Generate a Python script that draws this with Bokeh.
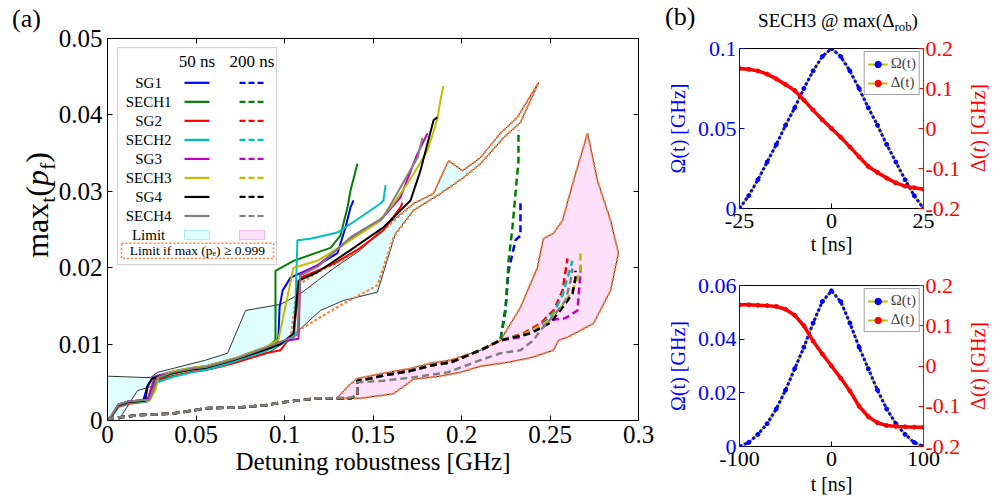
from bokeh.plotting import figure
from bokeh.models import (Range1d, LinearAxis, FixedTicker, NumeralTickFormatter,
                          CustomJSTickFormatter, Legend, LegendItem, BoxAnnotation, Div)
from bokeh.layouts import row, column
from bokeh.embed import file_html
from bokeh.resources import INLINE
from bokeh.core.properties import value

FONT = "Liberation Serif"
CSS_FONT = "'Liberation Serif', 'Times New Roman', serif"

# ======================= DATA : panel (a) =======================
x_ticks_a = [0, 0.05, 0.1, 0.15, 0.2, 0.25, 0.3]
y_ticks_a = [0, 0.01, 0.02, 0.03, 0.04, 0.05]
pulse_names = ["SG1", "SECH1", "SG2", "SECH2", "SG3", "SECH3", "SG4", "SECH4"]
pulse_colors = ["#0000ff", "#008000", "#ff0000", "#00bfbf", "#bf00bf", "#bfbf00", "#000000", "#808080"]

# ---- 50 ns pulses (solid) ----
sg1_50_x = [0, .0017, .0062, .0119, .0203, .0226, .0254, .0367, .048, .0554, .065, .074, .0893, .0955, .0966, .0972, .0989, .1034, .1186, .1299, .1345, .1373, .139]
sg1_50_y = [0, .0004, .0021, .0025, .0027, .0045, .0056, .0063, .0068, .0070, .0076, .0082, .0095, .0102, .0110, .0148, .0170, .0187, .0203, .0219, .0253, .0279, .0288]
sech1_50_x = [0, .0017, .0062, .0119, .0226, .0254, .0271, .0367, .048, .0554, .065, .074, .0893, .0949, .0949, .1051, .1186, .126, .1316, .1356, .1373, .1412]
sech1_50_y = [0, .0003, .0019, .0023, .0026, .0044, .0054, .0061, .0067, .0069, .0075, .0081, .0094, .0105, .0196, .0209, .0220, .0226, .0242, .0279, .0301, .0336]
sg2_50_x = [0, .0017, .0062, .0119, .0226, .0254, .0282, .0367, .048, .0554, .065, .074, .0893, .0977, .1051, .109, .1277, .1429, .1559, .1655, .1667]
sg2_50_y = [0, .0003, .0018, .0022, .0025, .0040, .0052, .0058, .0064, .0066, .0071, .0077, .0088, .0092, .0114, .0187, .0205, .0226, .0249, .0279, .0285]
sech2_50_x = [0, .0017, .0062, .0119, .0226, .0254, .0282, .0367, .048, .0554, .065, .074, .0893, .0989, .1056, .1073, .1147, .1299, .1429, .1542, .1559, .1571]
sech2_50_y = [0, .0004, .0019, .0023, .0025, .0038, .0050, .0057, .0063, .0066, .0072, .0079, .0091, .0101, .0109, .0236, .0238, .0246, .0266, .0284, .0288, .0308]
sg3_50_x = [0, .0017, .0062, .0119, .0226, .0254, .0271, .0367, .048, .0554, .065, .074, .0893, .0977, .1079, .109, .1186, .1373, .1542, .1655, .1751, .1808]
sg3_50_y = [0, .0004, .0021, .0025, .0027, .0048, .0058, .0064, .0069, .0071, .0077, .0083, .0096, .0103, .0107, .0192, .0203, .0238, .0262, .0292, .0349, .0376]
sech3_50_x = [0, .0017, .0062, .0119, .0237, .0271, .0288, .0367, .048, .0554, .065, .074, .0893, .0966, .1051, .1186, .1373, .1525, .1616, .1695, .1808, .1864, .1881, .1898]
sech3_50_y = [0, .0004, .0020, .0024, .0026, .0040, .0057, .0064, .0069, .0071, .0077, .0083, .0096, .0106, .0200, .0209, .0236, .0259, .0284, .0310, .0353, .0395, .0419, .0438]
sg4_50_x = [0, .0017, .0062, .0119, .0214, .0226, .0254, .0367, .048, .0554, .065, .074, .0893, .0977, .1051, .1079, .1186, .1373, .1559, .1712, .1768, .1842, .1864]
sg4_50_y = [0, .0004, .0020, .0024, .0026, .0045, .0055, .0062, .0067, .0069, .0075, .0081, .0093, .0100, .0114, .0183, .0194, .0223, .0253, .0288, .0327, .0393, .0397]
sech4_50_x = [0, .0017, .0062, .0119, .0237, .0260, .0282, .0367, .048, .0554, .065, .074, .0893, .0977, .1073, .1090, .1186, .1373, .1559, .1751, .178]
sech4_50_y = [0, .0005, .0021, .0025, .0027, .0040, .0056, .0063, .0068, .0070, .0076, .0082, .0095, .0103, .0112, .0190, .0201, .0240, .0266, .0344, .0370]

# ---- 200 ns pulses (dashed) ----
low_200_x = [0, .0028, .0175, .0367, .048, .0554, .074, .0893, .0994, .1186, .1373, .1412, .1412, .1486, .1559, .1712, .1825, .1938, .2107, .222]
low_200_y = [0, .0003, .0007, .0009, .0013, .0016, .0017, .0020, .0024, .0029, .0029, .0033, .0052, .0055, .0059, .0065, .0072, .0076, .0092, .0105]
sg1_200_tail_x = [.2249, .2266, .2305, .2333, .2333]
sg1_200_tail_y = [.0148, .0196, .0236, .0242, .0288]
sech1_200_tail_x = [.2249, .2266, .2288, .2305, .2322, .2322]
sech1_200_tail_y = [.0144, .0209, .0253, .0297, .0340, .0380]
sg2_200_tail_x = [.2350, .2446, .2520, .2571, .2599]
sg2_200_tail_y = [.0114, .0127, .0144, .0170, .0212]
sech2_200_tail_x = [.2360, .2446, .2520, .2571, .2627]
sech2_200_tail_y = [.0112, .0125, .0141, .0164, .0209]
sg3_200_tail_x = [.2333, .2486, .2588, .2655, .2672, .2672]
sg3_200_tail_y = [.0109, .0131, .0134, .0144, .0192, .0203]
sech3_200_tail_x = [.2362, .2475, .2559, .2627, .2672, .2672]
sech3_200_tail_y = [.0114, .0128, .0147, .0170, .0196, .0220]
sg4_200_tail_x = [.2390, .2503, .2571, .2627, .2644, .2644]
sg4_200_tail_y = [.0114, .0128, .0148, .0166, .0187, .0196]
sech4_200_x = [0, .0028, .0175, .0367, .048, .0554, .074, .0893, .0994, .1186, .1373, .1412, .1412, .1559, .1712, .1921, .2107, .222, .2333, .2407, .2446, .252, .2588, .2616, .2627]
sech4_200_y = [0, .0003, .0007, .0009, .0013, .0016, .0017, .0020, .0024, .0029, .0030, .0033, .0050, .0052, .0056, .0063, .0079, .0088, .0092, .0105, .0118, .0137, .0157, .0183, .0199]

# ---- limit regions ----
limit50_x = [0, .0243, .0282, .0384, .0554, .0678, .078, .0977, .109, .1186, .1277, .1429, .1542, .1729, .1842, .1927, .2006, .2107, .222, .2316, .2435,
             .2333, .2237, .2107, .2011, .1881, .1729, .1627, .1525, .1333, .1203, .109, .0994, .0904, .0768, .0638, .0469, .0299, .0254, .0169, .0062, 0]
limit50_y = [.0058, .0056, .0063, .0069, .0079, .0088, .0144, .0152, .0166, .0183, .0199, .0223, .0249, .0284, .0297, .0340, .0327, .0344, .0376, .0397, .0442,
             .0390, .0370, .0336, .0318, .0297, .0275, .0245, .0168, .0157, .0144, .0120, .0101, .0088, .0079, .0071, .0063, .0055, .0045, .0039, 0, 0]
limit200_x = [.1299, .1373, .1412, .1559, .1712, .1825, .1938, .2107, .222, .2333, .2429, .2463, .252, .2571, .2633, .2712, .2768, .2842, .2887,
              .2842, .2746, .2599, .2548, .252, .239, .226, .2107, .1994, .1881, .1729, .1616, .1429, .1299]
limit200_y = [.0030, .0048, .0055, .0062, .0068, .0075, .0079, .0092, .0105, .0148, .0200, .0238, .0245, .0262, .0314, .0376, .0314, .0262, .0219,
              .0170, .0127, .0109, .0105, .0092, .0082, .0076, .0071, .0063, .0058, .0054, .0035, .0029, .0029]
pe_limit50_upper_x = [.1034, .1073, .1186, .1373, .1542, .1729, .1842, .1927, .2006, .2107, .222, .2316, .2435]
pe_limit50_upper_y = [.0107, .0177, .0194, .0216, .0246, .0284, .0297, .0340, .0327, .0344, .0376, .0397, .0442]
pe_limit50_lower_x = [.1034, .1107, .1333, .1525, .1616, .1729, .1881, .2011, .2107, .2237, .2333, .2435]
pe_limit50_lower_y = [.0107, .0122, .0153, .0177, .0240, .0275, .0297, .0318, .0336, .0370, .0390, .0442]

# ======================= DATA : panel (b) =======================
t_50 = [-25, -22.5, -20, -17.5, -15, -12.5, -10, -7.5, -5, -2.5, 0, 2.5, 5, 7.5, 10, 12.5, 15, 17.5, 20, 22.5, 25]
omega_50 = [0, .008, .018, .029, .040, .052, .063, .075, .086, .095, .1, .095, .086, .075, .063, .052, .040, .029, .018, .008, 0]
delta_50 = [.150, .148, .144, .136, .124, .110, .095, .071, .046, .022, 0, -.022, -.046, -.071, -.095, -.110, -.124, -.136, -.144, -.148, -.152]
t_200 = [-100, -90, -80, -70, -60, -50, -40, -30, -20, -10, 0, 10, 20, 30, 40, 50, 60, 70, 80, 90, 100]
omega_200 = [0, .0015, .0045, .0085, .014, .021, .029, .037, .046, .054, .058, .054, .046, .037, .029, .021, .014, .0085, .0045, .0015, 0]
delta_200 = [.152, .152, .151, .150, .148, .141, .126, .100, .062, .030, 0, -.030, -.062, -.100, -.126, -.141, -.148, -.150, -.151, -.152, -.152]
omega50_ticks = [0, 0.05, 0.1]
omega200_ticks = [0, 0.02, 0.04, 0.06]
delta_ticks = [-0.2, -0.1, 0, 0.1, 0.2]
t50_ticks = [-25, 0, 25]
t200_ticks = [-100, 0, 100]

# ======================= STYLE / LAYOUT =======================
CYAN_FILL = "#e0ffff"
PINK_FILL = "#ffe0fa"
ORANGE = "#ff7f40"
YELLOW = "#bfbf00"


def style_axis(ax, size, color="black"):
    ax.major_tick_in = 5
    ax.major_tick_out = 0
    ax.minor_tick_line_color = None
    ax.major_tick_line_color = color
    ax.axis_line_color = color
    ax.major_label_text_font = FONT
    ax.major_label_text_font_size = f"{size}px"
    ax.major_label_text_color = color
    ax.axis_label_text_font = FONT
    ax.axis_label_text_font_style = "normal"
    ax.axis_label_text_color = color


def text_box(w, h, inner):
    html = (f'<div style="position:relative;width:{w}px;height:{h}px;font-family:{CSS_FONT};'
            f'color:#000;overflow:visible;">{inner}</div>')
    return Div(text=html, width=w, height=h, margin=(0, 0, 0, 0), styles={"overflow": "visible"})


def abs_text(x, y, size, content, rotate=False, color="#000", center_x=False):
    tr = "transform:translate(-50%,-50%) rotate(-90deg);" if rotate else (
        "transform:translateX(-50%);" if center_x else "")
    return (f'<div style="position:absolute;left:{x}px;top:{y}px;font-size:{size}px;line-height:1;'
            f'white-space:nowrap;color:{color};{tr}">{content}</div>')


def sub(s):
    return f'<span style="font-size:0.68em;position:relative;top:0.3em;">{s}</span>'


blank = CustomJSTickFormatter(code="return ''")

# ---------------- left text column: (a) and y label ----------------
L_W = 55
ylabel_html = "max" + sub("t") + "(<i>p</i>" + sub("f") + ")"
lstrip = text_box(L_W, 500, abs_text(12, 6, 26, "(a)") + abs_text(37, 205, 32, ylabel_html, rotate=True))

# ---------------- main figure (a) ----------------
A_LEFT, A_TOP, A_W, A_H = 107 - L_W, 38, 531, 382
P_W = 658 - L_W
p = figure(width=P_W, height=500, x_range=Range1d(0, 0.3), y_range=Range1d(0, 0.05),
           output_backend="svg", toolbar_location=None,
           min_border_left=A_LEFT, min_border_right=P_W - A_LEFT - A_W,
           min_border_top=A_TOP, min_border_bottom=500 - A_TOP - A_H)
p.grid.grid_line_color = None
p.outline_line_color = "black"

p.xaxis.ticker = FixedTicker(ticks=x_ticks_a)
p.yaxis.ticker = FixedTicker(ticks=y_ticks_a)
p.xaxis.formatter = NumeralTickFormatter(format="0.[00]")
p.yaxis.formatter = NumeralTickFormatter(format="0.[00]")
for ax in (p.xaxis[0], p.yaxis[0]):
    style_axis(ax, 25)
    ax.major_label_standoff = 5
p.xaxis.axis_label = "Detuning robustness [GHz]"
p.xaxis.axis_label_text_font_size = "25px"
p.xaxis.axis_label_standoff = 2
for loc, tk in (("right", y_ticks_a), ("above", x_ticks_a)):
    ax = LinearAxis(ticker=FixedTicker(ticks=tk), formatter=blank)
    style_axis(ax, 10)
    p.add_layout(ax, loc)

p.patch(limit50_x, limit50_y, fill_color=CYAN_FILL, line_color="black", line_width=0.8)
p.patch(limit200_x, limit200_y, fill_color=PINK_FILL, line_color="black", line_width=0.8)
for xs, ys in ((pe_limit50_upper_x, pe_limit50_upper_y), (pe_limit50_lower_x, pe_limit50_lower_y),
               (limit200_x + limit200_x[:1], limit200_y + limit200_y[:1])):
    p.line(xs, ys, line_color=ORANGE, line_width=2.2, line_dash="3 2")

curves50 = [(sg1_50_x, sg1_50_y), (sech1_50_x, sech1_50_y), (sg2_50_x, sg2_50_y), (sech2_50_x, sech2_50_y),
            (sg3_50_x, sg3_50_y), (sech3_50_x, sech3_50_y), (sg4_50_x, sg4_50_y), (sech4_50_x, sech4_50_y)]
curves200 = [(low_200_x + sg1_200_tail_x, low_200_y + sg1_200_tail_y),
             (low_200_x + sech1_200_tail_x, low_200_y + sech1_200_tail_y),
             (low_200_x + sg2_200_tail_x, low_200_y + sg2_200_tail_y),
             (low_200_x + sech2_200_tail_x, low_200_y + sech2_200_tail_y),
             (low_200_x + sg3_200_tail_x, low_200_y + sg3_200_tail_y),
             (low_200_x + sech3_200_tail_x, low_200_y + sech3_200_tail_y),
             (low_200_x + sg4_200_tail_x, low_200_y + sg4_200_tail_y),
             (sech4_200_x, sech4_200_y)]
for (xs, ys), c in zip(curves50, pulse_colors):
    p.line(xs, ys, line_color=c, line_width=2)
for (xs, ys), c in zip(curves200, pulse_colors):
    p.line(xs, ys, line_color=c, line_width=2.5, line_dash="7 4")

# ---- manual table legend ----
LEG_L, LEG_R, LEG_T, LEG_B = 0.0056, 0.0955, 0.0488, 0.0204
p.add_layout(BoxAnnotation(left=LEG_L, right=LEG_R, top=LEG_T, bottom=LEG_B,
                           fill_color="white", fill_alpha=1, line_color="#555555", line_width=1))
row_y0, row_step = 0.0442, 0.00249
rows_y = [row_y0 - i * row_step for i in range(8)]
lim_y = row_y0 - 8 * row_step
lab_x, s0, s1, d0, d1 = 0.0232, 0.0435, 0.0576, 0.0746, 0.0887
p.text(x=[(s0 + s1) / 2, (d0 + d1) / 2], y=[0.047, 0.047], text=["50 ns", "200 ns"],
       text_font=value(FONT), text_font_size="17px", text_align="center", text_baseline="middle", level="overlay")
p.text(x=[lab_x] * 9, y=rows_y + [lim_y], text=pulse_names + ["Limit"],
       text_font=value(FONT), text_font_size="15px", text_align="center", text_baseline="middle", level="overlay")
p.segment(x0=[s0] * 8, y0=rows_y, x1=[s1] * 8, y1=rows_y, line_color=pulse_colors, line_width=2.2, level="overlay")
p.segment(x0=[d0] * 8, y0=rows_y, x1=[d1] * 8, y1=rows_y, line_color=pulse_colors, line_width=2.2,
          line_dash="6 3", level="overlay")
p.quad(left=[s0, d0], right=[s1, d1], bottom=[lim_y - 0.0006] * 2, top=[lim_y + 0.0006] * 2,
       fill_color=[CYAN_FILL, PINK_FILL], line_color=["#b0e8e8", "#f0b8e8"], level="overlay")
p.quad(left=[0.0079], right=[0.0938], bottom=[0.0212], top=[0.0232], fill_color=None,
       line_color=ORANGE, line_width=1.5, line_dash="2 2", level="overlay")
p.text(x=[0.0508], y=[0.0222], text=["Limit if max (pₑ) ≥ 0.999"], text_font=value(FONT),
       text_font_size="13.5px", text_align="center", text_baseline="middle", level="overlay")

# ---------------- right column (b) ----------------
R_X0 = 658
R_W = 994 - R_X0
T_H = 33
title_html = "SECH3 @ max(Δ" + sub("rob") + ")"
tstrip = text_box(R_W, T_H, abs_text(7, 4, 26, "(b)") + abs_text(838 - R_X0, 11, 19, title_html, center_x=True))

B_LEFT, B_FW, B_W = 739 - R_X0, 184, 306
RS_W = R_W - B_W


def make_panel(t, om, de, om_ticks, t_ticks, height, btop, bbottom, om_top, lab_standoff):
    q = figure(width=B_W, height=height, x_range=Range1d(t[0], t[-1]), y_range=Range1d(0, om_top),
               output_backend="svg", toolbar_location=None,
               min_border_left=B_LEFT, min_border_right=B_W - B_LEFT - B_FW,
               min_border_top=btop, min_border_bottom=bbottom)
    q.extra_y_ranges = {"d": Range1d(-0.2, 0.2)}
    q.grid.grid_line_color = None
    q.outline_line_color = None
    xa = q.xaxis[0]
    style_axis(xa, 22)
    xa.ticker = FixedTicker(ticks=t_ticks)
    xa.formatter = NumeralTickFormatter(format="0")
    xa.major_label_standoff = 5
    xa.axis_label = "t [ns]"
    xa.axis_label_text_font_size = "20px"
    xa.axis_label_standoff = lab_standoff
    ya = q.yaxis[0]
    style_axis(ya, 22, "#0000ff")
    ya.ticker = FixedTicker(ticks=om_ticks)
    ya.formatter = NumeralTickFormatter(format="0.[00]")
    ya.major_label_standoff = 3
    ya.axis_label = "Ω(t) [GHz]"
    ya.axis_label_text_font_size = "20px"
    ya.axis_label_standoff = 6
    ra = LinearAxis(y_range_name="d", ticker=FixedTicker(ticks=delta_ticks),
                    formatter=NumeralTickFormatter(format="0.[0]"))
    style_axis(ra, 22, "#ff0000")
    ra.major_label_standoff = 2
    q.add_layout(ra, "right")
    ta = LinearAxis(ticker=FixedTicker(ticks=[]), formatter=blank)
    style_axis(ta, 10)
    q.add_layout(ta, "above")

    y_om = q.line(t, om, line_color=YELLOW, line_width=2)
    q.line(t, om, line_color="#0000ff", line_width=3, line_dash="3 2")
    s_om = q.scatter(t, om, size=4, color="#0000ff")
    y_de = q.line(t, de, line_color=YELLOW, line_width=2, y_range_name="d")
    q.line(t, de, line_color="#ff0000", line_width=3.5, y_range_name="d")
    s_de = q.scatter(t, de, size=4, color="#ff0000", y_range_name="d")
    leg = Legend(items=[LegendItem(label="Ω(t)", renderers=[y_om, s_om]),
                        LegendItem(label="Δ(t)", renderers=[y_de, s_de])],
                 location="top_right", label_text_font=FONT, label_text_font_size="15px",
                 glyph_width=20, glyph_height=16, label_height=16, label_standoff=3, padding=3,
                 spacing=2, margin=3, border_line_color="#444444", background_fill_alpha=1)
    q.add_layout(leg)

    yc = btop + (height - btop - bbottom) / 2
    rs = text_box(RS_W, height, abs_text(RS_W / 2 - 1, yc, 20, "Δ(<i>t</i>) [GHz]", rotate=True, color="#ff0000"))
    return row(q, rs)


H2 = 225
panel_top = make_panel(t_50, omega_50, delta_50, omega50_ticks, t50_ticks, H2, 48 - T_H, H2 - (208 - T_H), 0.1, 2)
H3 = 500 - T_H - H2
top3 = 285 - T_H - H2
panel_bot = make_panel(t_200, omega_200, delta_200, omega200_ticks, t200_ticks, H3, top3, H3 - top3 - 161, 0.06, 4)

layout = row(lstrip, p, column(tstrip, panel_top, panel_bot))
open("out.html", "w").write(file_html(layout, INLINE))
